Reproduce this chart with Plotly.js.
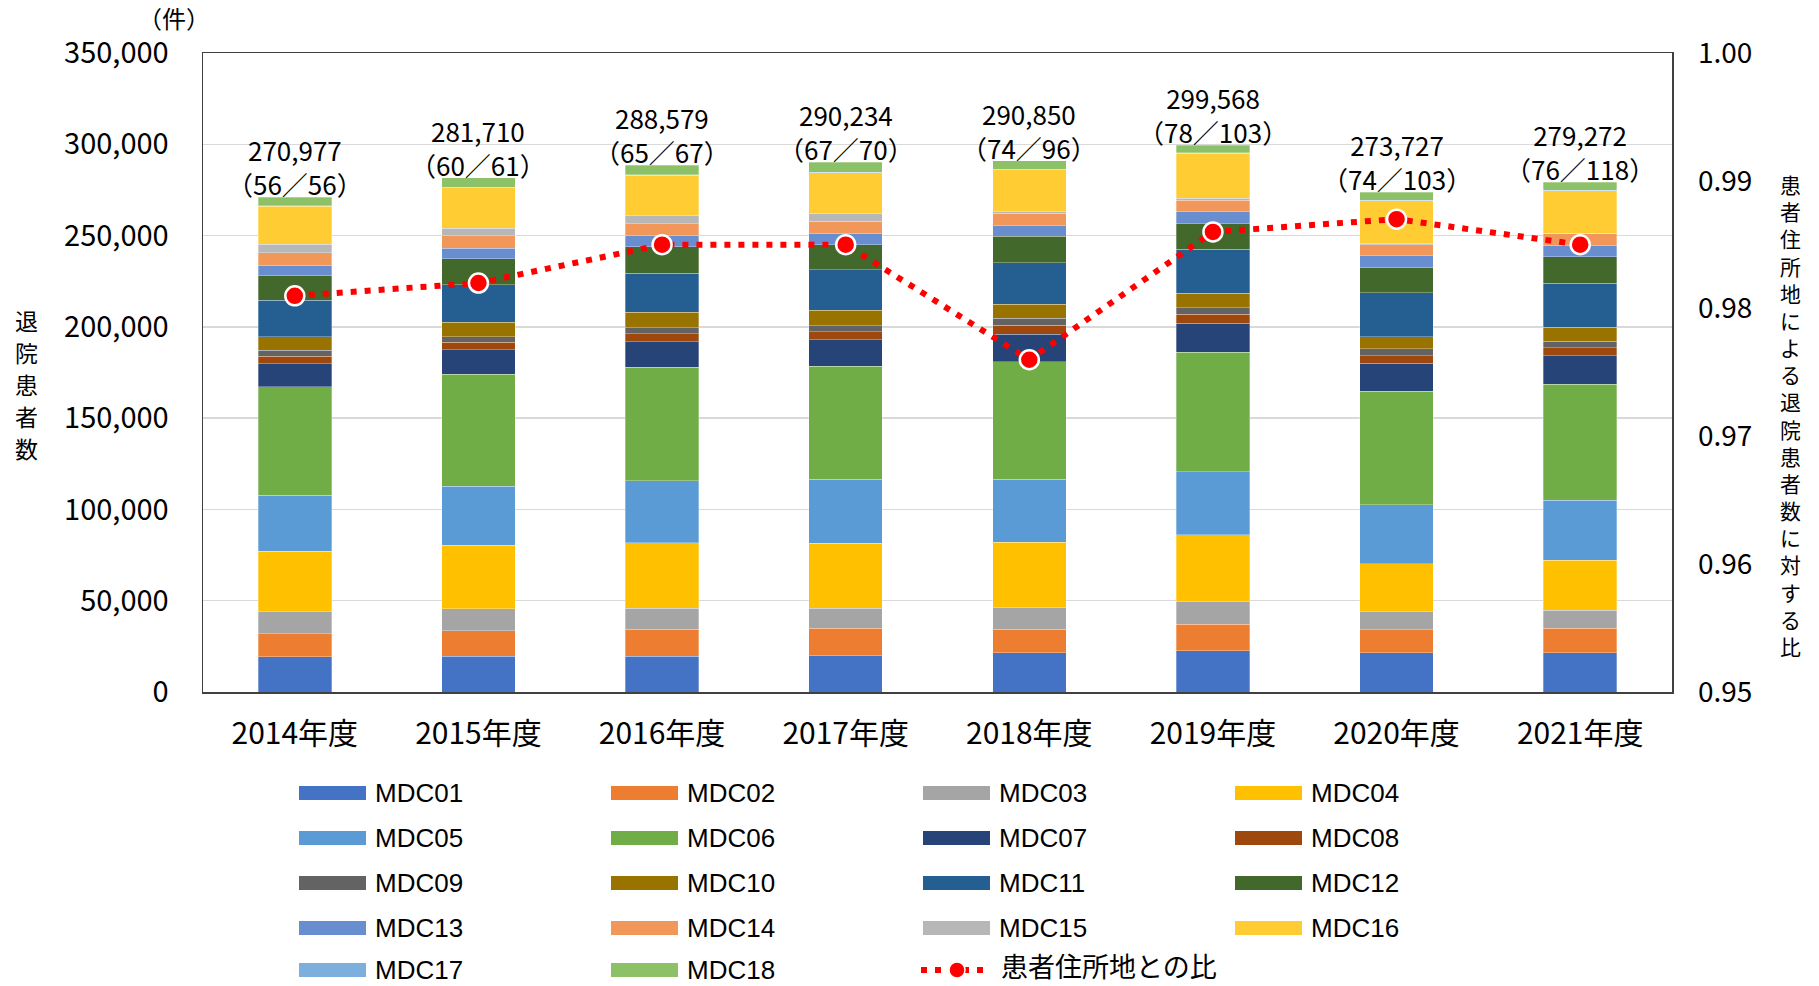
<!DOCTYPE html>
<html><head><meta charset="utf-8">
<script src="https://cdn.plot.ly/plotly-3.0.1.min.js"></script>
<style>html,body{margin:0;padding:0;background:#fff}#chart{width:1819px;height:986px}</style>
</head><body><div id="chart"></div>
<script>
// ---------- data ----------
const years = ["2014年度","2015年度","2016年度","2017年度","2018年度","2019年度","2020年度","2021年度"];
const MDC01 = [19200, 19600, 19600, 20000, 21500, 22600, 21400, 21600];
const MDC02 = [12800, 14000, 14800, 14800, 13000, 14600, 12800, 13400];
const MDC03 = [12000, 12000, 11400, 11200, 11600, 12300, 9800, 9800];
const MDC04 = [33200, 34800, 35900, 35500, 35800, 36500, 26300, 27400];
const MDC05 = [30500, 32400, 33900, 35000, 34700, 34700, 32200, 32900];
const MDC06 = [59600, 61200, 62300, 61900, 64300, 65400, 62300, 63400];
const MDC07 = [12600, 13600, 13900, 14500, 15000, 15900, 15200, 15800];
const MDC08 = [4100, 4100, 4400, 4400, 4900, 4900, 4300, 4300];
const MDC09 = [3100, 2900, 3300, 3300, 3800, 3600, 3600, 3600];
const MDC10 = [7400, 8000, 8400, 8400, 7800, 7800, 6800, 7500];
const MDC11 = [20000, 20600, 21400, 22200, 22600, 24200, 23900, 24100];
const MDC12 = [13400, 14000, 14500, 13900, 14600, 14300, 13900, 14500];
const MDC13 = [5800, 5800, 6200, 6200, 5800, 6300, 6400, 6200];
const MDC14 = [7000, 6800, 6600, 6600, 6700, 6300, 6200, 6400];
const MDC15 = [4500, 4100, 4400, 4400, 1300, 1100, 600, 500];
const MDC16 = [20800, 22300, 22000, 22200, 22600, 24600, 23300, 23200];
const MDC17 = [300, 300, 300, 300, 300, 300, 300, 300];
const MDC18 = [4677, 5210, 5279, 5434, 4550, 4168, 4427, 4372];
const totals = [270977, 281710, 288579, 290234, 290850, 299568, 273727, 279272];
const hospitalCounts = ["56/56","60/61","65/67","67/70","74/96","78/103","74/103","76/118"];
const ratio = [0.981, 0.982, 0.985, 0.985, 0.976, 0.986, 0.987, 0.985];
const seriesNames = ["MDC01","MDC02","MDC03","MDC04","MDC05","MDC06","MDC07","MDC08","MDC09","MDC10","MDC11","MDC12","MDC13","MDC14","MDC15","MDC16","MDC17","MDC18"];
const seriesValues = [MDC01,MDC02,MDC03,MDC04,MDC05,MDC06,MDC07,MDC08,MDC09,MDC10,MDC11,MDC12,MDC13,MDC14,MDC15,MDC16,MDC17,MDC18];
const ratioName = "患者住所地との比";
const yTitleLeft = "退院患者数";
const yTitleRight = "患者住所地による退院患者数に対する比";
const unitLabel = "（件）";

// ---------- styles ----------
const colors = ["#4472C4","#ED7D31","#A5A5A5","#FFC000","#5B9BD5","#70AD47","#264478","#9E480E","#636363",
  "#997300","#255E91","#43682B","#698ED0","#F1975A","#B7B7B7","#FFCD33","#7CAFDD","#8CC168"];
const FONT = "Noto Sans CJK JP, Noto Sans, sans-serif";
const LATIN = "Liberation Sans, Arial, sans-serif";
const W = 1819, H = 986;
const PL = 203, PR = 1672, PT = 53, PB = 692;
const px = x => (x - PL) / (PR - PL);
const py = y => (PB - y) / (PB - PT);

const traces = seriesValues.map((vals, i) => ({
  type: 'bar', name: seriesNames[i], x: years, y: vals,
  marker: {color: colors[i], line: {color: 'rgba(255,255,255,0.5)', width: 0.6}},
  hoverinfo: 'name+y'
}));
traces.push({
  type: 'scatter', mode: 'lines+markers', name: ratioName, x: years, y: ratio, yaxis: 'y2',
  line: {color: '#FF0000', width: 6, dash: '6px,8px'},
  marker: {color: '#FF0000', size: 19, line: {color: '#FFFFFF', width: 2.5}}
});

const annotations = [];
const shapes = [];
years.forEach((yr, i) => {
  annotations.push({
    x: yr, y: totals[i], xref: 'x', yref: 'y', yanchor: 'bottom', xanchor: 'center',
    text: totals[i].toLocaleString('en-US') + '<br>（' + hospitalCounts[i].replace('/', '／') + '）',
    showarrow: false, font: {family: FONT, size: 26, color: '#000'}, yshift: -7
  });
});
// left title: upright stacked characters
[...yTitleLeft].forEach((ch, i) => {
  annotations.push({x: px(26), y: py(320 + i * 32), xref: 'paper', yref: 'paper', text: ch, showarrow: false,
    xanchor: 'center', yanchor: 'middle', font: {family: FONT, size: 23, color: '#000'}});
});
// right title: upright stacked characters in one text
annotations.push({x: px(1790), y: py(414.5), xref: 'paper', yref: 'paper', text: [...yTitleRight].join('<br>'), showarrow: false,
  xanchor: 'center', yanchor: 'middle', font: {family: FONT, size: 20.9, color: '#000'}});
annotations.push({x: px(174), y: py(17), xref: 'paper', yref: 'paper', text: unitLabel, showarrow: false,
  xanchor: 'center', yanchor: 'middle', font: {family: FONT, size: 24, color: '#000'}});

// custom legend
const colX = [299, 611, 923, 1235];
const rowY = [793, 838, 883, 928, 970];
const legendItems = seriesNames.map((n, i) => ({name: n, color: colors[i], kind: 'bar'}));
legendItems.push({name: ratioName, color: '#FF0000', kind: 'line'});
legendItems.forEach((it, i) => {
  const c = i % 4, r = Math.floor(i / 4);
  const x0 = colX[c], yc = rowY[r];
  if (it.kind === 'bar') {
    shapes.push({type: 'rect', xref: 'paper', yref: 'paper', x0: px(x0), x1: px(x0 + 67), y0: py(yc - 7), y1: py(yc + 7),
      fillcolor: it.color, line: {width: 0}});
    annotations.push({x: px(x0 + 74), y: py(yc), xref: 'paper', yref: 'paper', text: it.name, showarrow: false,
      xanchor: 'left', yanchor: 'middle', font: {family: LATIN, size: 26, color: '#000'}});
  } else {
    shapes.push({type: 'line', xref: 'paper', yref: 'paper', x0: px(x0 - 2), x1: px(x0 + 62), y0: py(yc), y1: py(yc),
      line: {color: it.color, width: 6, dash: '6px,8px'}});
    shapes.push({type: 'circle', xref: 'paper', yref: 'paper', x0: px(x0 + 26), x1: px(x0 + 42), y0: py(yc - 8), y1: py(yc + 8),
      fillcolor: it.color, line: {color: '#FFFFFF', width: 1.5}});
    annotations.push({x: px(x0 + 76), y: py(yc - 5), xref: 'paper', yref: 'paper', text: it.name, showarrow: false,
      xanchor: 'left', yanchor: 'middle', font: {family: FONT, size: 27, color: '#000'}});
  }
});

const layout = {
  width: W, height: H, paper_bgcolor: '#fff', plot_bgcolor: '#fff',
  font: {family: FONT, color: '#000'},
  margin: {l: PL, r: W - PR, t: PT, b: H - PB, pad: 0},
  barmode: 'stack', bargap: 0.6, showlegend: false,
  xaxis: {type: 'category', showline: true, linecolor: '#404040', linewidth: 1.5, mirror: true, ticks: '',
    tickfont: {family: FONT, size: 30, color: '#000'}, ticklabelstandoff: 14, showgrid: false},
  yaxis: {range: [0, 350000], dtick: 50000, tickformat: ',d', showgrid: true, gridcolor: '#D9D9D9', gridwidth: 1.5,
    showline: true, linecolor: '#404040', linewidth: 1.5, mirror: true, zeroline: false, ticks: '',
    tickfont: {family: FONT, size: 29, color: '#000'}, ticklabelstandoff: 27},
  yaxis2: {overlaying: 'y', side: 'right', range: [0.95, 1.0], dtick: 0.01, tickformat: '.2f', showgrid: false,
    zeroline: false, showline: false, ticks: '', tickfont: {family: FONT, size: 28, color: '#000'}, ticklabelstandoff: 25},
  annotations: annotations, shapes: shapes
};
Plotly.newPlot('chart', traces, layout, {displayModeBar: false, staticPlot: true});
</script></body></html>
